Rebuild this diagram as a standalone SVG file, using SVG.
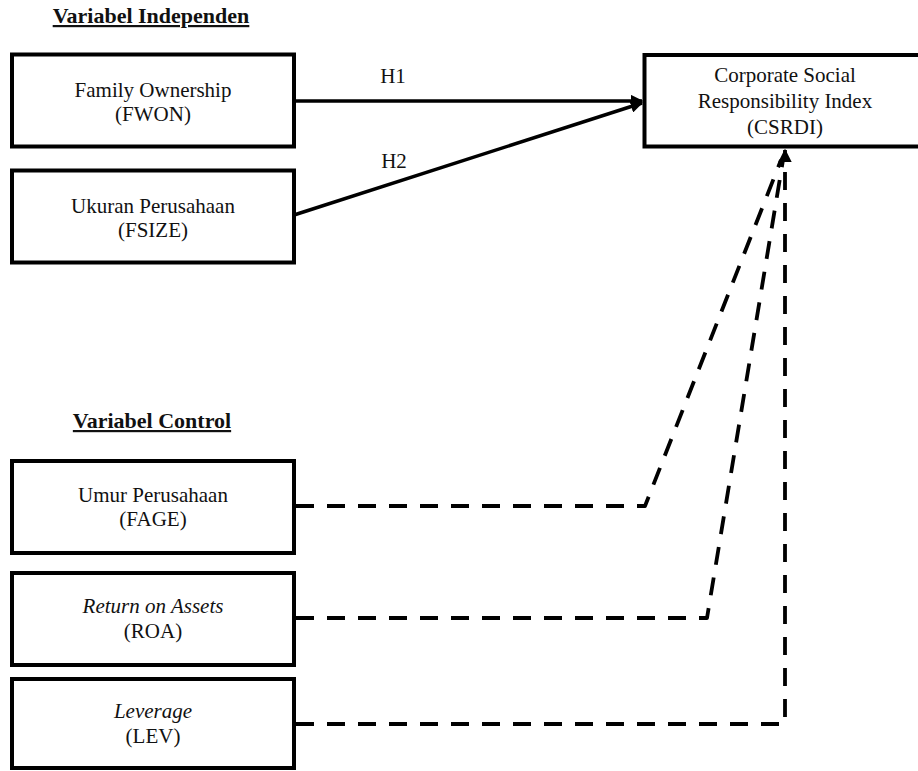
<svg xmlns="http://www.w3.org/2000/svg" width="918" height="771" viewBox="0 0 918 771">
<style>
.box{fill:#fff;stroke:#000;stroke-width:4}
.t{font-family:"Liberation Serif","Times New Roman",serif;font-size:21px;fill:#111;text-anchor:middle}
.h{font-family:"Liberation Serif","Times New Roman",serif;font-size:22px;font-weight:bold;fill:#111;text-anchor:middle;text-decoration:underline}
.solid{fill:none;stroke:#000;stroke-width:3.5}
.dash{fill:none;stroke:#000;stroke-width:3.8;stroke-dasharray:18 13;stroke-linejoin:round}
</style>
<defs>
<marker id="arr" viewBox="0 0 10 10" refX="9" refY="5" markerWidth="3.6" markerHeight="3.6" orient="auto" markerUnits="strokeWidth">
<path d="M0,0 L10,5 L0,10 Z" fill="#000"/>
</marker>
</defs>
<rect width="918" height="771" fill="#fff"/>
<text class="h" x="151" y="23">Variabel Independen</text>
<text class="h" x="152" y="428">Variabel Control</text>
<g id="connectors">
<line class="solid" x1="294" y1="101" x2="642" y2="101" marker-end="url(#arr)"/>
<line class="solid" x1="294" y1="215" x2="642" y2="103" marker-end="url(#arr)"/>
<text class="t" x="393" y="83">H1</text>
<text class="t" x="394" y="168">H2</text>
<polyline class="dash" points="296,506 645,506 781,160"/>
<polyline class="dash" points="296,618 707,618 783,160"/>
<polyline class="dash" points="296,724 785,724 785,150" marker-end="url(#arr)"/>
</g>
<g id="fwon"><rect class="box" x="12" y="54.5" width="282" height="92"/>
<text class="t" x="153" y="97">Family Ownership</text><text class="t" x="153" y="121">(FWON)</text></g>
<g id="fsize"><rect class="box" x="12" y="170.5" width="282" height="92"/>
<text class="t" x="153" y="213">Ukuran Perusahaan</text><text class="t" x="153" y="237">(FSIZE)</text></g>
<g id="csrdi"><rect class="box" x="644.5" y="55" width="290" height="91.5"/>
<text class="t" x="785" y="82">Corporate Social</text><text class="t" x="785" y="108">Responsibility Index</text><text class="t" x="785" y="134">(CSRDI)</text></g>
<g id="fage"><rect class="box" x="12" y="461" width="282" height="92"/>
<text class="t" x="153" y="502">Umur Perusahaan</text><text class="t" x="153" y="526">(FAGE)</text></g>
<g id="roa"><rect class="box" x="12" y="573" width="282" height="92"/>
<text class="t" x="153" y="613"><tspan font-style="italic">Return on Assets</tspan></text><text class="t" x="153" y="638">(ROA)</text></g>
<g id="lev"><rect class="box" x="12" y="679" width="282" height="89"/>
<text class="t" x="153" y="718"><tspan font-style="italic">Leverage</tspan></text><text class="t" x="153" y="743">(LEV)</text></g>
</svg>
